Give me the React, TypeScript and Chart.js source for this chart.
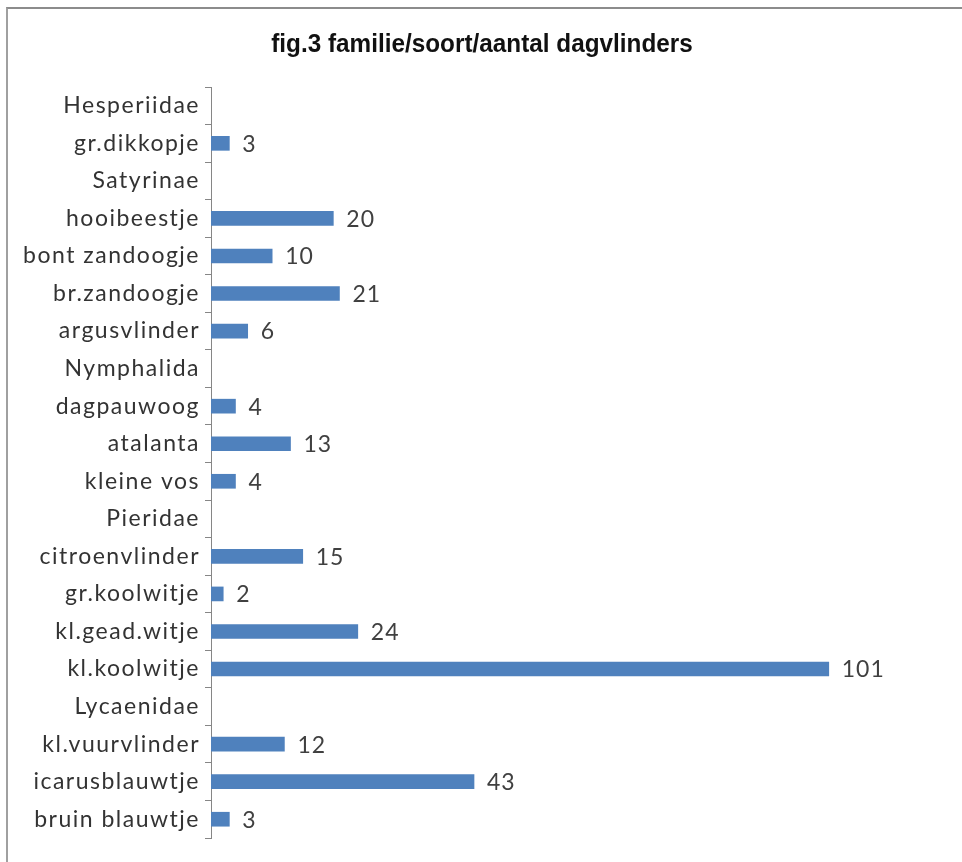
import React, { useEffect, useRef } from "react";
import { Chart, registerables } from "chart.js";

Chart.register(...registerables);

const titleText = "fig.3 familie/soort/aantal dagvlinders";

const categories: string[] = [
  "Hesperiidae",
  "gr.dikkopje",
  "Satyrinae",
  "hooibeestje",
  "bont zandoogje",
  "br.zandoogje",
  "argusvlinder",
  "Nymphalida",
  "dagpauwoog",
  "atalanta",
  "kleine vos",
  "Pieridae",
  "citroenvlinder",
  "gr.koolwitje",
  "kl.gead.witje",
  "kl.koolwitje",
  "Lycaenidae",
  "kl.vuurvlinder",
  "icarusblauwtje",
  "bruin blauwtje",
];

const counts: (number | null)[] = [
  null, 3, null, 20, 10, 21, 6, null, 4, 13, 4, null, 15, 2, 24, 101, null, 12, 43, 3,
];

const xMin = 0;
const xMax = 120;

const labelFont = "Lato, 'Open Sans', sans-serif";
const labelSize = 23;
const letterSpacing = "1.5px";

const spacingPlugin = {
  id: "spacing",
  beforeUpdate(chart: any) {
    chart.ctx.letterSpacing = letterSpacing;
  },
  beforeDraw(chart: any) {
    chart.ctx.letterSpacing = letterSpacing;
  },
};

const titlePlugin = {
  id: "customTitle",
  afterDraw(chart: any) {
    const ctx = chart.ctx;
    ctx.save();
    ctx.letterSpacing = "0px";
    ctx.font = "bold 26px 'Liberation Sans', Arial, sans-serif";
    ctx.fillStyle = "#111111";
    ctx.textAlign = "center";
    ctx.textBaseline = "alphabetic";
    ctx.translate(482, 52);
    ctx.scale(0.935, 1);
    ctx.fillText(titleText, 0, 0);
    ctx.restore();
  },
};

const valueLabelPlugin = {
  id: "valueLabels",
  afterDatasetsDraw(chart: any) {
    const ctx = chart.ctx;
    const meta = chart.getDatasetMeta(0);
    ctx.save();
    ctx.font = `${labelSize}px ${labelFont}`;
    ctx.letterSpacing = "1px";
    ctx.fillStyle = "#404040";
    ctx.textAlign = "left";
    ctx.textBaseline = "middle";
    meta.data.forEach((bar: any, i: number) => {
      const v = counts[i];
      if (v === null || v === undefined) return;
      ctx.fillText(String(v), bar.x + 13, bar.y + 1);
    });
    ctx.restore();
  },
};

export default function App() {
  const canvasRef = useRef<HTMLCanvasElement | null>(null);

  useEffect(() => {
    if (!canvasRef.current) return;
    const chart = new Chart(canvasRef.current, {
      type: "bar",
      data: {
        labels: categories,
        datasets: [
          {
            data: counts as any,
            backgroundColor: "#4F81BD",
            borderWidth: 0,
            barThickness: 14,
          },
        ],
      },
      plugins: [spacingPlugin, valueLabelPlugin, titlePlugin],
      options: {
        indexAxis: "y",
        animation: false,
        responsive: false,
        maintainAspectRatio: false,
        layout: { padding: { left: 0, right: 17, top: 87, bottom: 24 } },
        plugins: {
          legend: { display: false },
          tooltip: { enabled: false },
          title: { display: false },
        },
        scales: {
          x: {
            display: false,
            min: xMin,
            max: xMax,
          },
          y: {
            afterFit(scale: any) {
              scale.width = 211;
            },
            grid: {
              display: true,
              offset: true,
              drawOnChartArea: false,
              drawTicks: true,
              tickLength: 6,
              color: "#868686",
            },
            border: { display: true, color: "#868686", width: 1 },
            ticks: {
              color: "#333333",
              padding: 5,
              font: { family: labelFont, size: labelSize },
            },
          },
        },
      },
    });
    return () => chart.destroy();
  }, []);

  return (
    <div style={{ position: "absolute", left: 0, top: 0, width: 962, height: 862, background: "#ffffff" }}>
      <div
        style={{
          position: "absolute",
          left: 6,
          top: 7,
          width: 960,
          height: 860,
          borderTop: "2px solid #8c8c8c",
          borderLeft: "2px solid #a0a0a0",
          boxSizing: "border-box",
        }}
      />
      <canvas ref={canvasRef} width={962} height={862} style={{ position: "absolute", left: 0, top: 0 }} />
    </div>
  );
}
